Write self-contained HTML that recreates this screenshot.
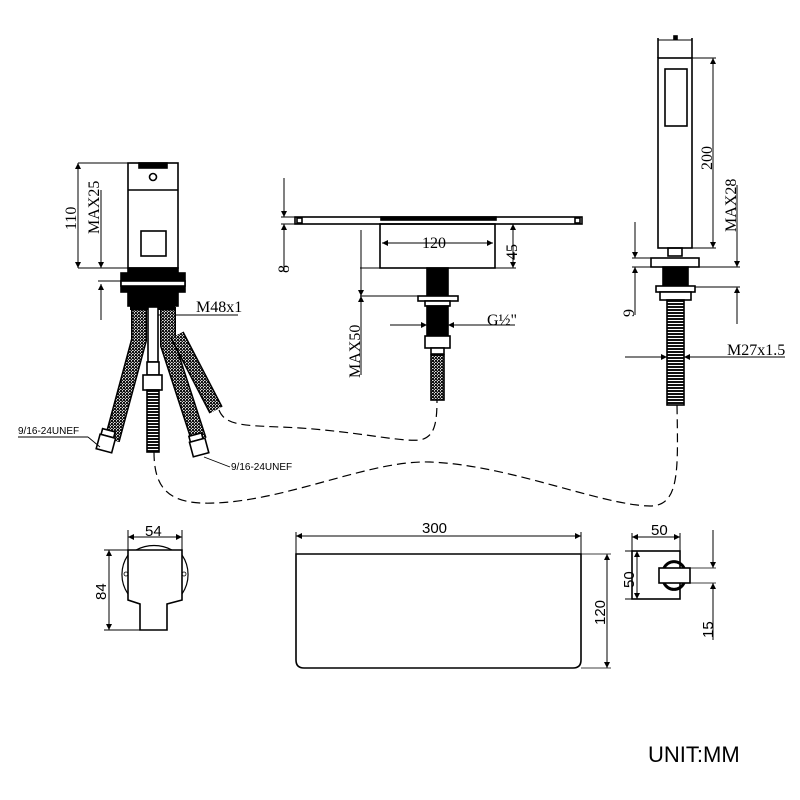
<!DOCTYPE html>
<html><head><meta charset="utf-8"><style>
html,body{margin:0;padding:0;background:#fff}
svg{display:block}
text{font-family:"Liberation Serif",serif;fill:#000}
.s{font-family:"Liberation Sans",sans-serif}
</style></head><body>
<svg width="800" height="800" viewBox="0 0 800 800" xmlns="http://www.w3.org/2000/svg">
<defs>
<marker id="a" viewBox="0 0 10 10" refX="10" refY="5" markerWidth="14" markerHeight="6" orient="auto-start-reverse" markerUnits="userSpaceOnUse"><path d="M0,0L10,5L0,10z" fill="#000"/></marker>
<pattern id="mesh" width="3" height="3" patternUnits="userSpaceOnUse"><rect width="3" height="3" fill="#ddd"/><rect width="2" height="2" fill="#111"/><rect x="1.5" y="1.5" width="1.5" height="1.5" fill="#111"/></pattern>
<pattern id="thr" width="4" height="3" patternUnits="userSpaceOnUse"><rect width="4" height="3" fill="#fff"/><rect width="4" height="2" fill="#111"/></pattern>
</defs>
<g fill="none" stroke="#000" stroke-width="1.6">

<!-- LEFT MIXER -->
<rect x="128" y="163" width="50" height="105"/>
<line x1="128" y1="190" x2="178" y2="190"/>
<rect x="139" y="163" width="28" height="5" fill="#000"/>
<circle cx="153" cy="177" r="3.5"/>
<rect x="141" y="231" width="25" height="25"/>
<rect x="128" y="268" width="50" height="38" fill="#000"/>
<rect x="121" y="273" width="6" height="19" fill="#000"/>
<rect x="179" y="273" width="6" height="19" fill="#000"/>
<rect x="121" y="281" width="64" height="5" fill="#fff"/>
<line x1="78" y1="163" x2="128" y2="163" stroke-width="1"/>
<line x1="78" y1="268" x2="128" y2="268" stroke-width="1"/>
<line x1="78" y1="163" x2="78" y2="268" marker-start="url(#a)" marker-end="url(#a)" stroke-width="1"/>
<line x1="101" y1="190" x2="101" y2="268" marker-end="url(#a)" stroke-width="1"/>
<line x1="101" y1="320" x2="101" y2="284" marker-end="url(#a)" stroke-width="1"/>
<line x1="98" y1="281" x2="121" y2="281" stroke-width="1"/>
<line x1="157" y1="315" x2="238" y2="315" stroke-width="1"/>

<!-- hoses -->
<path d="M139,307 L139,340 L112,440" stroke="#000" stroke-width="16"/>
<path d="M139,307 L139,340 L112,440" stroke="url(#mesh)" stroke-width="13"/>
<path d="M168,307 L168,345 L199,440" stroke="#000" stroke-width="16"/>
<path d="M168,307 L168,345 L199,440" stroke="url(#mesh)" stroke-width="13"/>
<path d="M177,335 L216,410" stroke="#000" stroke-width="15"/>
<path d="M177,335 L216,410" stroke="url(#mesh)" stroke-width="12"/>
<rect x="130" y="305" width="45" height="5" fill="#000" stroke="none"/>
<rect x="148" y="307" width="10" height="55" fill="#fff"/>
<rect x="147" y="362" width="12" height="13" fill="#fff"/>
<rect x="143" y="375" width="19" height="15" fill="#fff"/>
<rect x="147" y="390" width="12" height="62" fill="url(#thr)" stroke="#000"/>
<g transform="rotate(15 106 443)"><rect x="99" y="430" width="13" height="6" fill="#fff"/><rect x="98" y="436" width="16" height="15" fill="#fff"/></g>
<g transform="rotate(-15 199 447)"><rect x="192" y="434" width="13" height="6" fill="#fff"/><rect x="191" y="440" width="16" height="15" fill="#fff"/></g>
<path d="M88,437 L18,437" stroke-width="0.9"/>
<path d="M88,437 L100,447" stroke-width="0.9"/>
<path d="M204,457 L230,467" stroke-width="0.9"/>

<!-- dashed -->
<path d="M219,410 C226,428 250,425 300,428 C360,432 400,442 420,440 C434,437 437,425 437,400" stroke-width="1.2" stroke-dasharray="9,5"/>
<path d="M154,452 C154,490 170,505 215,503 C290,500 370,460 430,462 C510,465 600,505 650,506 C680,506 678,470 677,405" stroke-width="1.2" stroke-dasharray="9,5"/>

<!-- SPOUT -->
<rect x="295" y="217" width="287" height="7"/>
<rect x="297" y="218" width="5" height="5"/>
<rect x="575" y="218" width="5" height="5"/>
<rect x="381" y="217" width="115" height="3" fill="#000"/>
<rect x="380" y="224" width="115" height="44"/>
<rect x="427" y="268" width="21" height="28" fill="#000"/>
<rect x="418" y="296" width="40" height="5" fill="#fff"/>
<rect x="425" y="301" width="25" height="5" fill="#fff"/>
<rect x="427" y="306" width="21" height="29" fill="#000"/>
<rect x="425" y="336" width="25" height="12" fill="#fff"/>
<rect x="431" y="348" width="13" height="6" fill="#fff"/>
<rect x="431" y="355" width="13" height="45" fill="url(#mesh)" stroke="#000"/>
<line x1="382" y1="243" x2="493" y2="243" marker-start="url(#a)" marker-end="url(#a)" stroke-width="1"/>
<line x1="495" y1="268" x2="516" y2="268" stroke-width="1"/>
<line x1="513" y1="224" x2="513" y2="268" marker-start="url(#a)" marker-end="url(#a)" stroke-width="1"/>
<line x1="281" y1="217" x2="295" y2="217" stroke-width="1"/>
<line x1="281" y1="224" x2="295" y2="224" stroke-width="1"/>
<line x1="284" y1="178" x2="284" y2="217" marker-end="url(#a)" stroke-width="1"/>
<line x1="284" y1="272" x2="284" y2="224" marker-end="url(#a)" stroke-width="1"/>
<line x1="360" y1="296" x2="418" y2="296" stroke-width="1"/>
<line x1="361" y1="230" x2="361" y2="268" stroke-width="1"/>
<line x1="360" y1="268" x2="380" y2="268" stroke-width="1"/>
<line x1="361" y1="250" x2="361" y2="296" marker-end="url(#a)" stroke-width="1"/>
<line x1="361" y1="375" x2="361" y2="296" marker-end="url(#a)" stroke-width="1"/>
<line x1="390" y1="325" x2="427" y2="325" marker-end="url(#a)" stroke-width="1"/>
<line x1="515" y1="325" x2="448" y2="325" marker-end="url(#a)" stroke-width="1"/>

<!-- HANDSHOWER -->
<line x1="658" y1="38" x2="658" y2="58"/>
<line x1="692" y1="38" x2="692" y2="58"/>
<line x1="658" y1="40" x2="692" y2="40" stroke-width="1"/>
<rect x="674" y="36" width="3" height="3" fill="#000"/>
<rect x="658" y="58" width="34" height="190"/>
<rect x="665" y="69" width="22" height="57"/>
<rect x="668" y="248" width="14" height="8"/>
<rect x="651" y="258" width="48" height="9"/>
<rect x="663" y="267" width="25" height="19" fill="#000"/>
<rect x="656" y="286" width="39" height="6" fill="#fff"/>
<rect x="660" y="292" width="31" height="8" fill="#fff"/>
<rect x="667" y="300" width="17" height="105" fill="url(#thr)" stroke="#000"/>
<line x1="692" y1="58" x2="716" y2="58" stroke-width="1"/>
<line x1="713" y1="58" x2="713" y2="248" marker-start="url(#a)" marker-end="url(#a)" stroke-width="1"/>
<line x1="692" y1="248" x2="716" y2="248" stroke-width="1"/>
<line x1="699" y1="267" x2="740" y2="267" stroke-width="1"/>
<line x1="695" y1="287" x2="740" y2="287" stroke-width="1"/>
<line x1="737" y1="185" x2="737" y2="267" marker-end="url(#a)" stroke-width="1"/>
<line x1="737" y1="324" x2="737" y2="287" marker-end="url(#a)" stroke-width="1"/>
<line x1="632" y1="258" x2="651" y2="258" stroke-width="1"/>
<line x1="632" y1="267" x2="651" y2="267" stroke-width="1"/>
<line x1="635" y1="222" x2="635" y2="258" marker-end="url(#a)" stroke-width="1"/>
<line x1="635" y1="315" x2="635" y2="267" marker-end="url(#a)" stroke-width="1"/>
<line x1="625" y1="357" x2="667" y2="357" marker-end="url(#a)" stroke-width="1"/>
<line x1="785" y1="357" x2="684" y2="357" marker-end="url(#a)" stroke-width="1"/>

<!-- BOTTOM LEFT -->
<path d="M136,550 A38,38 0 0 1 172,550" stroke-width="1.2"/>
<path d="M128,555 A38,36 0 0 0 128,594" stroke-width="1.2"/>
<path d="M182,555 A38,36 0 0 1 182,594" stroke-width="1.2"/>
<circle cx="126" cy="574" r="2" stroke-width="0.8"/>
<circle cx="184" cy="574" r="2" stroke-width="0.8"/>
<path d="M128,550 L182,550 L182,600 L167,604 L167,630 L140,630 L140,604 L128,600 Z" fill="#fff"/>
<line x1="128" y1="530" x2="128" y2="550" stroke-width="1"/>
<line x1="182" y1="530" x2="182" y2="550" stroke-width="1"/>
<line x1="128" y1="537" x2="182" y2="537" marker-start="url(#a)" marker-end="url(#a)" stroke-width="1"/>
<line x1="104" y1="550" x2="128" y2="550" stroke-width="1"/>
<line x1="104" y1="630" x2="140" y2="630" stroke-width="1"/>
<line x1="109" y1="550" x2="109" y2="630" marker-start="url(#a)" marker-end="url(#a)" stroke-width="1"/>

<!-- BOTTOM MIDDLE -->
<path d="M296,554 L581,554 L581,660 Q581,668 573,668 L304,668 Q296,668 296,660 Z"/>
<line x1="296" y1="532" x2="296" y2="554" stroke-width="1"/>
<line x1="581" y1="532" x2="581" y2="554" stroke-width="1"/>
<line x1="296" y1="536" x2="581" y2="536" marker-start="url(#a)" marker-end="url(#a)" stroke-width="1"/>
<line x1="581" y1="554" x2="611" y2="554" stroke-width="0.8"/>
<line x1="581" y1="668" x2="611" y2="668" stroke-width="0.8"/>
<line x1="607" y1="554" x2="607" y2="668" marker-start="url(#a)" marker-end="url(#a)" stroke-width="1"/>

<!-- BOTTOM RIGHT -->
<rect x="632" y="551" width="48" height="48"/>
<path d="M664,568 A11,11 0 0 1 684,568 M664,583 A11,11 0 0 0 684,583" stroke-width="3"/>
<rect x="659" y="568" width="31" height="15" fill="#fff"/>
<line x1="690" y1="568" x2="716" y2="568" stroke-width="0.8"/>
<line x1="690" y1="583" x2="716" y2="583" stroke-width="0.8"/>
<line x1="632" y1="533" x2="632" y2="551" stroke-width="1"/>
<line x1="680" y1="533" x2="680" y2="551" stroke-width="1"/>
<line x1="632" y1="537" x2="680" y2="537" marker-start="url(#a)" marker-end="url(#a)" stroke-width="1"/>
<line x1="625" y1="551" x2="632" y2="551" stroke-width="1"/>
<line x1="625" y1="599" x2="632" y2="599" stroke-width="1"/>
<line x1="637" y1="551" x2="637" y2="599" marker-start="url(#a)" marker-end="url(#a)" stroke-width="1"/>
<line x1="713" y1="530" x2="713" y2="568" marker-end="url(#a)" stroke-width="1"/>
<line x1="713" y1="640" x2="713" y2="583" marker-end="url(#a)" stroke-width="1"/>
</g>

<!-- TEXT -->
<g font-size="16">
<text transform="translate(76,230) rotate(-90)">110</text>
<text transform="translate(99,234) rotate(-90)">MAX25</text>
<text x="196" y="312">M48x1</text>
<text class="s" x="18" y="434" font-size="10">9/16-24UNEF</text>
<text class="s" x="231" y="470" font-size="10">9/16-24UNEF</text>
<text x="422" y="248">120</text>
<text transform="translate(517,260) rotate(-90)">45</text>
<text transform="translate(289,273) rotate(-90)">8</text>
<text transform="translate(360,378) rotate(-90)">MAX50</text>
<text x="487" y="325">G½"</text>
<text transform="translate(712,170) rotate(-90)">200</text>
<text transform="translate(736,232) rotate(-90)">MAX28</text>
<text transform="translate(634,317) rotate(-90)">9</text>
<text x="727" y="355">M27x1.5</text>
</g>
<g class="s" font-size="15">
<text class="s" x="145" y="536">54</text>
<text class="s" transform="translate(106,600) rotate(-90)">84</text>
<text class="s" x="422" y="533">300</text>
<text class="s" transform="translate(605,625) rotate(-90)">120</text>
<text class="s" x="651" y="535">50</text>
<text class="s" transform="translate(634,588) rotate(-90)">50</text>
<text class="s" transform="translate(713,638) rotate(-90)">15</text>
<text class="s" x="648" y="762" font-size="22">UNIT:MM</text>
</g>
</svg>
</body></html>
